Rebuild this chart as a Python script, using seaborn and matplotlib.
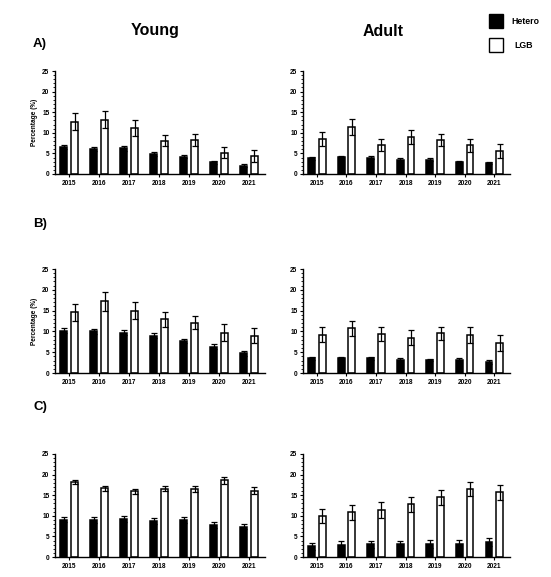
import matplotlib
matplotlib.use('Agg')
import matplotlib.pyplot as plt
import pandas as pd
import seaborn as sns
from matplotlib.ticker import MultipleLocator
from matplotlib.patches import Rectangle

sns.set_style('ticks')
plt.rcParams['font.family'] = ['Liberation Sans', 'DejaVu Sans']
plt.rcParams.update({'text.color': 'black', 'axes.labelcolor': 'black',
                     'xtick.color': 'black', 'ytick.color': 'black',
                     'axes.edgecolor': 'black'})

years = ['2015', '2016', '2017', '2018', '2019', '2020', '2021']
groups = ['Hetero', 'LGB']

# A) Young
a_young_hetero = [6.5, 6.0, 6.2, 4.9, 4.2, 2.8, 2.0]
a_young_hetero_err = [0.5, 0.5, 0.5, 0.5, 0.4, 0.4, 0.4]
a_young_lgb = [12.7, 13.2, 11.1, 8.1, 8.2, 5.2, 4.4]
a_young_lgb_err = [2.0, 2.1, 1.9, 1.3, 1.5, 1.4, 1.5]
# A) Adult
a_adult_hetero = [3.8, 4.1, 4.0, 3.5, 3.5, 2.8, 2.7]
a_adult_hetero_err = [0.3, 0.3, 0.3, 0.3, 0.3, 0.3, 0.3]
a_adult_lgb = [8.5, 11.4, 7.0, 9.0, 8.3, 7.0, 5.6]
a_adult_lgb_err = [1.7, 1.9, 1.5, 1.7, 1.5, 1.6, 1.7]
# B) Young
b_young_hetero = [10.2, 10.0, 9.7, 8.9, 7.7, 6.3, 4.8]
b_young_hetero_err = [0.6, 0.6, 0.6, 0.6, 0.5, 0.6, 0.6]
b_young_lgb = [14.6, 17.2, 15.0, 12.9, 12.1, 9.7, 9.0]
b_young_lgb_err = [2.0, 2.2, 2.0, 1.8, 1.6, 2.0, 1.8]
# B) Adult
b_adult_hetero = [3.5, 3.6, 3.5, 3.2, 3.1, 3.2, 2.7]
b_adult_hetero_err = [0.3, 0.3, 0.3, 0.3, 0.3, 0.4, 0.5]
b_adult_lgb = [9.2, 10.7, 9.4, 8.5, 9.5, 9.1, 7.3]
b_adult_lgb_err = [1.8, 1.9, 1.6, 1.8, 1.6, 1.9, 1.9]
# C) Young
c_young_hetero = [9.1, 8.9, 9.3, 8.8, 8.9, 7.8, 7.4]
c_young_hetero_err = [0.6, 0.7, 0.7, 0.7, 0.7, 0.7, 0.7]
c_young_lgb = [18.3, 16.7, 15.9, 16.6, 16.5, 18.6, 16.1]
c_young_lgb_err = [0.5, 0.6, 0.6, 0.6, 0.7, 0.8, 0.8]
# C) Adult
c_adult_hetero = [2.6, 2.9, 3.1, 3.2, 3.2, 3.2, 3.6]
c_adult_hetero_err = [0.8, 0.9, 0.8, 0.8, 0.9, 0.9, 1.0]
c_adult_lgb = [10.0, 10.9, 11.4, 12.8, 14.5, 16.5, 15.7]
c_adult_lgb_err = [1.7, 1.8, 2.0, 1.8, 1.8, 1.8, 1.8]

panels = [
    (a_young_hetero, a_young_hetero_err, a_young_lgb, a_young_lgb_err),
    (a_adult_hetero, a_adult_hetero_err, a_adult_lgb, a_adult_lgb_err),
    (b_young_hetero, b_young_hetero_err, b_young_lgb, b_young_lgb_err),
    (b_adult_hetero, b_adult_hetero_err, b_adult_lgb, b_adult_lgb_err),
    (c_young_hetero, c_young_hetero_err, c_young_lgb, c_young_lgb_err),
    (c_adult_hetero, c_adult_hetero_err, c_adult_lgb, c_adult_lgb_err),
]

W, H = 551, 577
fig = plt.figure(figsize=(W / 100, H / 100), dpi=100)

# axes boxes in pixels: (left, right) and (top, bottom)
col_x = [(55, 265), (303, 510)]
row_y = [(71, 174), (269, 373), (454, 557)]

for i, (het, het_err, lgb, lgb_err) in enumerate(panels):
    r, c = divmod(i, 2)
    x0, x1 = col_x[c]
    y0, y1 = row_y[r]
    ax = fig.add_axes([x0 / W, 1 - y1 / H, (x1 - x0) / W, (y1 - y0) / H])

    df = pd.DataFrame({
        'year': years * 2,
        'group': ['Hetero'] * 7 + ['LGB'] * 7,
        'value': het + lgb,
    })
    sns.barplot(data=df, x='year', y='value', hue='group', hue_order=groups,
                palette={'Hetero': 'black', 'LGB': 'white'},
                edgecolor='black', linewidth=1.1, width=0.72, gap=0.36,
                errorbar=None, legend=False, ax=ax)

    # error bars on top of each bar
    for cont, err in zip(ax.containers, [het_err, lgb_err]):
        xs = [p.get_x() + p.get_width() / 2 for p in cont]
        hs = [p.get_height() for p in cont]
        ax.errorbar(xs, hs, yerr=err, fmt='none', ecolor='black',
                    elinewidth=0.9, capsize=2.2, capthick=0.9, zorder=5)

    ax.set_xlim(-0.47, 6.53)
    ax.set_ylim(0, 25)
    ax.yaxis.set_major_locator(MultipleLocator(5))
    ax.yaxis.set_minor_locator(MultipleLocator(1))
    ax.tick_params(axis='both', which='major', labelsize=4.7, length=2.5,
                   width=0.8, pad=1.5)
    ax.tick_params(axis='y', which='minor', length=1.3, width=0.6)
    for lab in ax.get_xticklabels() + ax.get_yticklabels():
        lab.set_fontweight('bold')
    for sp in ['left', 'bottom']:
        ax.spines[sp].set_linewidth(1.0)
    sns.despine(ax=ax)
    ax.set_xlabel('')
    if c == 0 and r < 2:
        ax.set_ylabel('Percentage (%)', fontsize=4.7, fontweight='bold',
                      labelpad=3)
    else:
        ax.set_ylabel('')

# column titles and panel letters
fig.text(155 / W, 1 - 30 / H, 'Young', fontsize=11.5, fontweight='bold',
         ha='center', va='center')
fig.text(383 / W, 1 - 32 / H, 'Adult', fontsize=11.5, fontweight='bold',
         ha='center', va='center')
for lab, yy in [('A)', 44), ('B)', 224), ('C)', 407)]:
    fig.text(40 / W, 1 - yy / H, lab, fontsize=9.5, fontweight='bold',
             ha='center', va='center')

# legend boxes
for color, yy, name in [('black', 21, 'Hetero'), ('white', 45, 'LGB')]:
    fig.patches.append(Rectangle((489 / W, 1 - (yy + 7) / H), 14 / W, 14 / H,
                                 facecolor=color, edgecolor='black',
                                 linewidth=1.0, transform=fig.transFigure))
    fig.text(511 / W if name == 'Hetero' else 514 / W, 1 - yy / H, name,
             fontsize=6.3, fontweight='bold', ha='left', va='center')

fig.savefig('out.png', dpi=100)
